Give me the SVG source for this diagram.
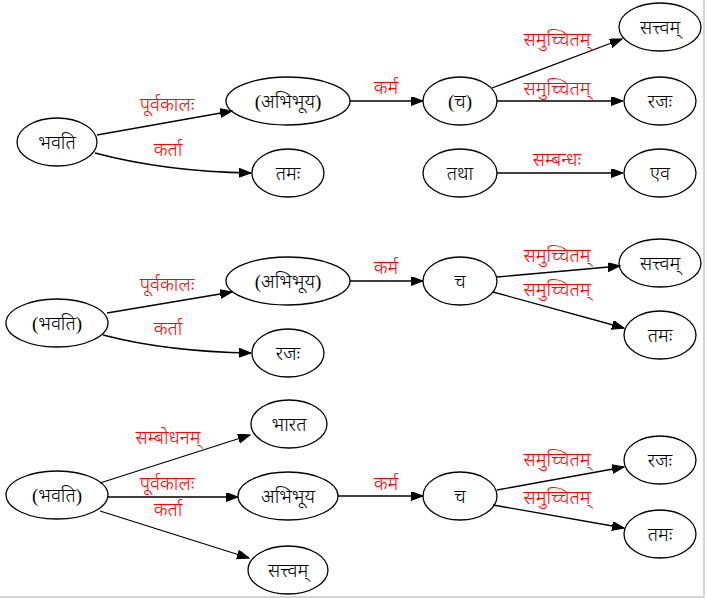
<svg xmlns="http://www.w3.org/2000/svg" width="707" height="599" viewBox="0 0 707 599">
<style>
.n ellipse{fill:none;stroke:#000;stroke-width:1.3}
.n text{font-family:"Liberation Serif","Noto Sans",serif;font-size:19px;font-weight:300;text-anchor:middle;fill:#000}
.e path{fill:none;stroke:#000;stroke-width:1.3;marker-end:url(#ah)}
.l text{font-family:"Liberation Serif","Noto Sans",serif;font-size:19px;font-weight:300;text-anchor:middle;fill:#ff0000}
</style>
<defs>
<marker id="ah" markerUnits="userSpaceOnUse" markerWidth="14" markerHeight="11" refX="12" refY="4.5" orient="auto">
<path d="M0,0 L12,4.5 L0,9 z" fill="#000" stroke="#000" stroke-width="1"/>
</marker>
</defs>
<rect width="707" height="599" fill="#fff"/>
<path d="M704,0 V597 H0" fill="none" stroke="#c8c8c8" stroke-width="1.5"/>
<g class="e" id="connectors">
<path d="M97,135 L232,111"/>
<path d="M95,153 C140,165 190,172 251,173"/>
<path d="M350,101 L423,101"/>
<path d="M492,88 L622,39"/>
<path d="M497,101 L623,101"/>
<path d="M497,173 L623,173"/>
<path d="M107,313 L232,292"/>
<path d="M103,335 C145,346 190,352 251,353"/>
<path d="M350,281 L423,281"/>
<path d="M497,277 L620,266"/>
<path d="M493,292 L624,328"/>
<path d="M100,483 L250,435"/>
<path d="M108,497 L238,497"/>
<path d="M100,511 L249,558"/>
<path d="M338,496 L423,496"/>
<path d="M497,490 L624,467"/>
<path d="M493,505 L624,528"/>
</g>
<g class="l" id="labels">
<text x="167" y="111">पूर्वकालः</text>
<text x="168" y="156">कर्ता</text>
<text x="386" y="94">कर्म</text>
<text x="557" y="46">समुच्चितम्</text>
<text x="557" y="95">समुच्चितम्</text>
<text x="557" y="166">सम्बन्धः</text>
<text x="167" y="291">पूर्वकालः</text>
<text x="168" y="335">कर्ता</text>
<text x="386" y="274">कर्म</text>
<text x="557" y="262">समुच्चितम्</text>
<text x="557" y="296">समुच्चितम्</text>
<text x="168" y="444">सम्बोधनम्</text>
<text x="167" y="490">पूर्वकालः</text>
<text x="168" y="516">कर्ता</text>
<text x="386" y="490">कर्म</text>
<text x="557" y="466">समुच्चितम्</text>
<text x="557" y="504">समुच्चितम्</text>
</g>
<g class="n" id="n1"><ellipse cx="57" cy="142" rx="40" ry="24"/><text x="57" y="149">भवति</text></g>
<g class="n" id="n2"><ellipse cx="288" cy="101" rx="62" ry="24"/><text x="288" y="108">(अभिभूय)</text></g>
<g class="n" id="n3"><ellipse cx="288" cy="173" rx="36" ry="24"/><text x="288" y="180">तमः</text></g>
<g class="n" id="n4"><ellipse cx="460" cy="101" rx="37" ry="24"/><text x="460" y="108">(च)</text></g>
<g class="n" id="n5"><ellipse cx="660" cy="27" rx="41" ry="24"/><text x="660" y="34">सत्त्वम्</text></g>
<g class="n" id="n6"><ellipse cx="660" cy="101" rx="36" ry="24"/><text x="660" y="108">रजः</text></g>
<g class="n" id="n7"><ellipse cx="460" cy="173" rx="37" ry="24"/><text x="460" y="180">तथा</text></g>
<g class="n" id="n8"><ellipse cx="660" cy="173" rx="36" ry="24"/><text x="660" y="180">एव</text></g>
<g class="n" id="n9"><ellipse cx="57" cy="323" rx="51" ry="24"/><text x="57" y="330">(भवति)</text></g>
<g class="n" id="n10"><ellipse cx="288" cy="281" rx="62" ry="24"/><text x="288" y="288">(अभिभूय)</text></g>
<g class="n" id="n11"><ellipse cx="288" cy="353" rx="36" ry="24"/><text x="288" y="360">रजः</text></g>
<g class="n" id="n12"><ellipse cx="460" cy="281" rx="37" ry="24"/><text x="460" y="288">च</text></g>
<g class="n" id="n13"><ellipse cx="660" cy="263" rx="41" ry="24"/><text x="660" y="270">सत्त्वम्</text></g>
<g class="n" id="n14"><ellipse cx="660" cy="335" rx="36" ry="24"/><text x="660" y="342">तमः</text></g>
<g class="n" id="n15"><ellipse cx="57" cy="495" rx="51" ry="24"/><text x="57" y="502">(भवति)</text></g>
<g class="n" id="n16"><ellipse cx="289" cy="424" rx="38" ry="24"/><text x="289" y="431">भारत</text></g>
<g class="n" id="n17"><ellipse cx="288" cy="496" rx="50" ry="24"/><text x="288" y="503">अभिभूय</text></g>
<g class="n" id="n18"><ellipse cx="288" cy="570" rx="40" ry="24"/><text x="288" y="577">सत्त्वम्</text></g>
<g class="n" id="n19"><ellipse cx="460" cy="496" rx="37" ry="24"/><text x="460" y="503">च</text></g>
<g class="n" id="n20"><ellipse cx="660" cy="460" rx="36" ry="24"/><text x="660" y="467">रजः</text></g>
<g class="n" id="n21"><ellipse cx="660" cy="534" rx="36" ry="24"/><text x="660" y="541">तमः</text></g>
</svg>
